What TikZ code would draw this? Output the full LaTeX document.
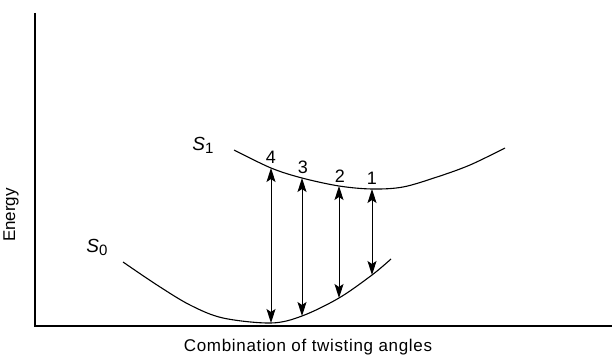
\documentclass[tikz,border=0pt]{standalone}
\usepackage{fontspec}
\setmainfont{Liberation Sans}
\usetikzlibrary{arrows.meta}
\begin{document}
\begin{tikzpicture}[x=1pt,y=-1pt,
  axis/.style={line width=1.1pt},
  curve/.style={line width=1.1pt},
  tip/.style={Stealth[length=14pt,width=9pt,inset=3pt]},
  trans/.style={line width=1pt,{Stealth[length=14pt,width=9pt,inset=3pt]}-{Stealth[length=14pt,width=9pt,inset=3pt]}},
  lab/.style={font=\fontsize{17}{19}\selectfont},
  num/.style={font=\fontsize{18}{20}\selectfont, inner sep=0pt}]
\useasboundingbox (0,0) rectangle (616,358);
% axes
\coordinate (top) at (35,13);
\coordinate (orig) at (35,326);
\coordinate (right) at (612,326);
\draw[axis] (top) -- (orig) -- (right);
% points on curves
\coordinate (t4) at (271,168);
\coordinate (t3) at (302,178);
\coordinate (t2) at (339,186);
\coordinate (t1) at (372,189);
\coordinate (b4) at (271,323);
\coordinate (b3) at (302,316);
\coordinate (b2) at (339,298);
\coordinate (b1) at (372,275);
% S1
\draw[curve] plot[smooth,tension=0.55] coordinates {(234,150) (t4) (t3) (t2) (t1) (403,187) (437,177) (470,165) (505,148)};
% S0
\draw[curve] plot[smooth,tension=0.55] coordinates {(123,262) (157,285) (190,305) (223,318) (b4) (b3) (b2) (b1) (391,259)};
% transitions
\draw[trans] (b4) -- (t4);
\draw[trans] (b3) -- (t3);
\draw[trans] (b2) -- (t2);
\draw[trans] (b1) -- (t1);
% labels
\node[num] (n4) at (271,157) {4};
\node[num] (n3) at (303,167) {3};
\node[num] (n2) at (340,176) {2};
\node[num] (n1) at (372,178) {1};
\node[lab] (s1) at (203,145) {\fontsize{19}{20}\selectfont\textit{S}\raisebox{-3pt}{\fontsize{15}{16}\selectfont 1}};
\node[lab] (s0) at (97,247) {\fontsize{19}{20}\selectfont\textit{S}\raisebox{-3pt}{\fontsize{15}{16}\selectfont 0}};
\node[lab,rotate=90] (ylab) at (11,215) {Energy};
\node[lab] (xlab) at (308,347) {\addfontfeature{LetterSpace=4}Combination of twisting angles};
\end{tikzpicture}
\end{document}
